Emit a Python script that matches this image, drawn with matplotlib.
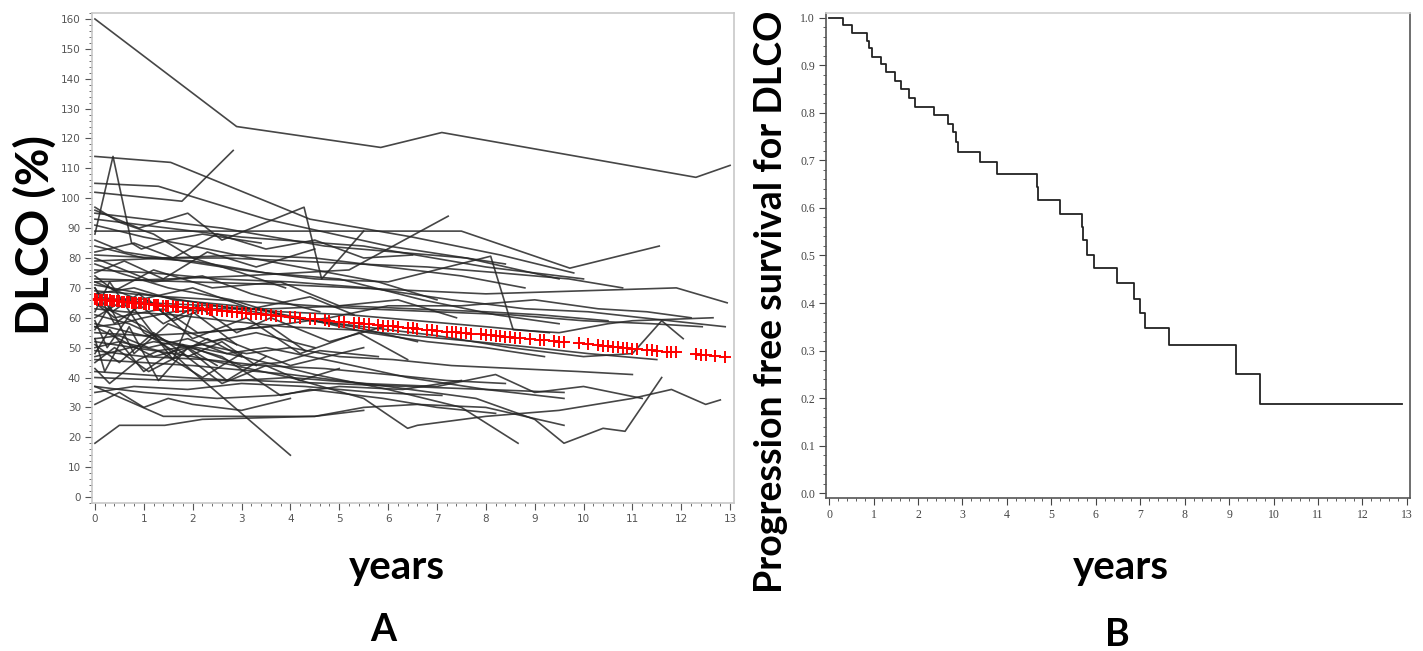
"""
DLCO 추적 관찰 그림 재현.
A: 환자별 DLCO(%) 궤적 + 평균 예측치(빨간 +)
B: DLCO 무진행 생존 곡선 (Kaplan-Meier)
출력: out.png
"""

import matplotlib
matplotlib.use("Agg")
import matplotlib.pyplot as plt
from matplotlib.ticker import MultipleLocator

# ---------------- A 패널: 환자별 궤적 (years, DLCO %) ----------------
subject_times = [
    [0, 2.9, 5.85, 7.1, 12.3, 13.0],
    [0, 1.55, 4.4, 6.5, 8.3, 9.8],
    [0, 0.37, 0.75, 0.95, 1.5, 2.2, 3.4],
    [0, 1.78, 2.83],
    [0, 1.3, 3.5, 6.0, 8.4],
    [0, 0.9, 1.9, 2.6, 4.28, 4.64, 5.5],
    [0, 2.6, 4.7, 7.6, 9.5],
    [0, 1.0, 3.0, 5.5, 8.0, 10.0],
    [0, 3.0, 7.5, 9.72, 11.55],
    [0, 3.0, 5.2, 7.23],
    [0, 4.0, 8.0, 11.9, 12.94],
    [0, 0.6, 1.2, 2.2, 3.2, 4.6],
    [0, 0.5, 1.5, 2.8, 4.0, 5.3, 6.6],
    [0, 1.0, 2.0, 3.5, 5.0, 6.7, 8.2, 9.5],
    [0, 1.2, 2.5, 4.0, 5.6, 7.3, 8.8, 10.1, 11.2, 12.9],
    [0, 0.3, 1.0, 1.7, 2.3, 3.0],
    [0, 0.4, 1.4, 2.1, 3.6, 4.3],
    [0, 0.25, 0.8, 1.6, 2.0, 2.9],
    [0, 0.5, 1.0, 1.6, 2.5, 3.6, 5.1, 6.5, 8.0, 9.1, 10.5],
    [0, 1.0, 2.2, 3.5, 4.8, 6.0, 7.5, 9.0, 10.3, 11.3, 12.2],
    [0, 0.7, 1.5, 2.6, 3.8, 4.4, 5.9, 7.0, 8.2],
    [0, 1.2, 2.0, 3.0, 3.8, 4.6, 5.8],
    [0, 0.5, 1.1, 1.9, 2.7, 3.5, 5.0, 6.4, 8.0, 9.6],
    [0, 0.3, 0.9, 1.3, 2.2, 3.0],
    [0, 0.9, 1.8, 2.9, 4.0, 5.5, 7.0, 8.2, 9.0, 10.0, 11.2],
    [0, 1.0, 2.5, 3.7, 5.0, 6.3, 7.5],
    [0, 0.5, 1.0, 1.5, 2.0, 3.0, 4.0],
    [0, 0.5, 1.43, 2.2, 4.5, 5.5],
    [0, 1.4, 4.5, 5.5, 6.6, 8.0, 9.6],
    [0, 1.0, 2.0, 3.0, 4.0],
    [0, 2.0, 4.0, 5.5, 6.4, 6.6, 8.0, 9.5, 11.0, 11.8, 12.5, 12.8],
    [0, 1.5, 3.0, 4.5, 6.0, 7.5, 8.66],
    [0, 2.0, 4.0, 6.0, 7.8, 9.0, 9.6, 10.4, 10.85, 11.6],
    [0, 1.0, 2.5, 4.0, 5.5, 7.0, 8.5, 10.0, 11.0, 11.6, 12.04],
    [0, 0.6, 1.8, 3.0, 4.5, 6.0, 8.1, 8.56, 9.5, 10.5, 11.0, 12.65],
    [0, 1.5, 3.5, 5.5, 7.0, 8.5, 10.0, 11.4, 12.43],
    [0, 0.4, 1.2, 2.4, 3.8, 5.0, 6.2, 7.4],
    [0, 0.8, 1.6, 2.9, 4.2, 5.6, 6.8, 8.0, 9.2],
    [0, 0.3, 0.8, 1.5, 2.4, 3.3, 4.5],
    [0, 0.6, 1.6, 2.7, 3.9, 5.2, 6.5, 7.8, 9.0, 10.1, 11.5],
    [0, 0.5, 1.2, 1.9, 2.6, 3.3],
    [0, 1.0, 2.3, 3.4, 4.7, 6.0, 7.2, 8.4],
    [0, 0.7, 1.4, 2.1, 2.9, 3.6, 4.8, 5.9],
    [0, 0.2, 0.7, 1.3, 1.9, 2.5],
    [0, 1.3, 2.7, 4.1, 5.4, 6.8, 8.3, 9.7, 10.8],
    [0, 0.9, 2.0, 3.2, 4.4, 5.3],
    [0, 0.4, 1.1, 1.8, 2.6, 3.5, 4.2, 5.0],
    [0, 1.1, 2.4, 3.8, 5.2, 6.6, 8.0, 9.3],
    [0, 0.5, 1.3, 2.2, 3.1, 4.0, 5.0, 6.1, 7.3, 8.6, 9.9, 11.0],
    [0, 0.8, 1.9, 3.0, 4.3, 5.7, 7.1],
    [0, 0.35, 0.9, 1.6, 2.4],
    [0, 1.6, 3.2, 4.8, 6.4, 8.0, 9.6],
    [0, 0.5, 1.2, 2.0, 3.0, 3.9],
    [0, 1.0, 2.0, 3.2, 4.5, 5.8, 7.0],
    [0, 0.8, 1.6, 2.5, 3.5, 4.5, 5.5, 6.5],
    [0, 1.5, 3.0, 4.5, 6.0, 7.5, 8.8],
    [0, 0.6, 1.4, 2.3, 3.3, 4.5],
    [0, 0.4, 1.1, 2.0, 3.1, 4.2, 5.4, 6.4],
    [0, 1.2, 2.6, 4.0, 5.5],
    [0, 0.3, 1.0, 1.8, 2.7, 3.5],
]
subject_values = [
    [160, 124, 117, 122, 107, 111],
    [114, 112, 93, 87, 81, 75],
    [88, 114, 85, 83, 86, 88, 85],
    [102, 99, 116],
    [105, 104, 93, 84, 78],
    [96, 90, 95, 86, 97, 73, 89],
    [95, 90, 84, 80, 73],
    [93, 91, 87, 84, 77, 73],
    [89, 89, 89, 76.6, 84],
    [72, 74, 76, 94],
    [73, 71, 68, 70, 65],
    [80, 76, 72, 74, 68, 62],
    [78, 75, 70, 66, 60, 57, 52],
    [84, 80, 79, 75, 73, 66, 61, 58],
    [76, 75, 73, 72, 70, 66, 63, 62, 60, 57],
    [62, 72, 55, 48, 53, 47],
    [65, 60, 63, 55, 57, 49],
    [59, 50, 63, 46, 62, 51],
    [57, 58, 60, 62, 63, 63, 64, 63, 62, 61, 59],
    [55, 54, 55, 57, 60, 64, 64, 66, 63, 62, 60],
    [61, 58, 52, 47, 34, 36, 33, 30, 28],
    [47, 52, 50, 44, 45, 49, 47],
    [53, 54, 50, 53, 48, 50, 45, 40, 36, 33],
    [43, 38, 46, 49, 40, 48],
    [42, 41, 40, 39, 40, 38, 37, 41, 35, 37, 33],
    [37, 35, 33, 34, 37, 36, 39],
    [31, 35, 30, 33, 31, 29, 33],
    [18, 24, 24, 26, 27, 29],
    [37, 27, 27, 30, 31, 30, 24],
    [65, 57, 42, 28, 14],
    [52, 47, 40, 33, 23, 24, 27, 29, 33, 36, 31, 32.5],
    [58, 52, 47, 41, 36, 30, 18],
    [46, 44, 41, 37, 33, 26, 18, 23, 22, 40],
    [71, 68, 64, 60, 57, 54, 50, 47, 48, 59, 53],
    [86, 82, 79, 76, 73, 72, 80.6, 56, 55, 58, 59, 60],
    [69, 67, 65, 63, 62, 61, 59, 58, 57],
    [74, 69, 76, 70, 72, 64, 66, 60],
    [68, 70, 66, 64, 60, 55, 52, 50, 47],
    [56, 64, 48, 58, 52, 55, 50],
    [63, 62, 61, 59, 57, 56, 54, 52, 50, 48, 46],
    [51, 45, 55, 47, 52, 44],
    [49, 47, 46, 44, 43, 41, 39, 38],
    [60, 67, 58, 64, 55, 60, 52, 57],
    [53, 42, 57, 39, 50, 44],
    [81, 80, 80, 79, 78, 77, 75, 73, 70],
    [72, 66, 70, 63, 67, 61],
    [45, 50, 42, 48, 38, 44, 39, 43],
    [67, 65, 64, 62, 61, 59, 57, 55],
    [50, 52, 49, 51, 48, 50, 47, 46, 44, 43, 42, 41],
    [35, 37, 36, 38, 37, 35, 34],
    [70, 62, 68, 59, 64],
    [40, 39, 39, 38, 37, 36, 35],
    [97, 92, 88, 80, 75, 70],
    [91, 87, 84, 80, 76, 72, 66],
    [82, 85, 80, 88, 83, 86, 80, 81],
    [79, 80, 81, 80, 77, 74, 70],
    [75, 79, 73, 82, 77, 83],
    [70, 58, 66, 53, 60, 48, 55, 46],
    [57, 47, 53, 44, 50],
    [48, 56, 42, 51, 39, 47],
]

# 평균 예측치 (빨간 + 표시)
fit_times = [
    0, 0.05, 0.1, 0.15, 0.2, 0.25, 0.3, 0.35, 0.4, 0.45, 0.5, 0.55, 0.6, 0.65, 0.7,
    0.75, 0.8, 0.85, 0.9, 0.95, 1.0, 1.05, 1.1, 1.2, 1.25, 1.3, 1.4, 1.45, 1.5, 1.6,
    1.65, 1.7, 1.8, 1.9, 2.0, 2.1, 2.2, 2.3, 2.35, 2.4, 2.5, 2.6, 2.7, 2.8, 2.9, 3.0,
    3.1, 3.2, 3.3, 3.4, 3.5, 3.6, 3.7, 3.8, 4.0, 4.1, 4.2, 4.4, 4.5, 4.7, 4.8, 5.0,
    5.1, 5.3, 5.4, 5.5, 5.6, 5.8, 5.9, 6.0, 6.1, 6.2, 6.4, 6.5, 6.6, 6.8, 6.9, 7.0,
    7.2, 7.3, 7.4, 7.5, 7.6, 7.7, 7.9, 8.0, 8.1, 8.2, 8.3, 8.4, 8.5, 8.6, 8.7, 8.9,
    9.1, 9.2, 9.4, 9.5, 9.6, 9.9, 10.1, 10.3, 10.4, 10.5, 10.6, 10.7, 10.8, 10.9,
    11.0, 11.1, 11.3, 11.4, 11.5, 11.7, 11.8, 11.9, 12.3, 12.4, 12.5, 12.7, 12.9,
]
fit_values = [
    66.2, 66.1, 66.1, 66.0, 65.9, 65.8, 65.8, 65.7, 65.6, 65.5, 65.5, 65.4, 65.3, 65.2, 65.2,
    65.1, 65.0, 64.9, 64.9, 64.8, 64.7, 64.6, 64.6, 64.4, 64.3, 64.3, 64.1, 64.0, 64.0, 63.8,
    63.7, 63.7, 63.5, 63.4, 63.2, 63.1, 62.9, 62.8, 62.7, 62.6, 62.5, 62.3, 62.2, 62.0, 61.9, 61.7,
    61.6, 61.4, 61.3, 61.1, 61.0, 60.8, 60.7, 60.5, 60.2, 60.1, 59.9, 59.6, 59.5, 59.2, 59.0, 58.7,
    58.6, 58.3, 58.1, 58.0, 57.8, 57.5, 57.4, 57.2, 57.1, 56.9, 56.6, 56.5, 56.3, 56.0, 55.9, 55.7,
    55.4, 55.3, 55.1, 55.0, 54.8, 54.7, 54.4, 54.2, 54.1, 53.9, 53.8, 53.6, 53.5, 53.3, 53.2, 52.9,
    52.6, 52.4, 52.1, 52.0, 51.8, 51.4, 51.1, 50.8, 50.6, 50.5, 50.3, 50.2, 50.0, 49.9,
    49.7, 49.6, 49.3, 49.1, 49.0, 48.7, 48.5, 48.4, 47.8, 47.6, 47.5, 47.2, 46.9,
]

# ---------------- B 패널: Kaplan-Meier ----------------
km_times = [0, 0.32, 0.52, 0.85, 0.90, 0.97, 1.17, 1.28, 1.48, 1.62, 1.80, 1.93, 2.36,
            2.68, 2.79, 2.86, 2.90, 3.40, 3.78, 4.67, 4.70, 5.20, 5.69, 5.72, 5.80, 5.96,
            6.47, 6.86, 7.00, 7.10, 7.65, 9.15, 9.69, 12.9]
km_surv = [1.0, 0.985, 0.968, 0.952, 0.936, 0.918, 0.903, 0.886, 0.867, 0.850, 0.832,
           0.813, 0.796, 0.777, 0.760, 0.739, 0.718, 0.697, 0.672, 0.644, 0.617, 0.587,
           0.560, 0.533, 0.500, 0.473, 0.442, 0.408, 0.378, 0.347, 0.312, 0.250, 0.187, 0.187]

BIG_FONT = "Lato"
W, H = 1423, 651


def style_ticks(ax, color, family, size):
    ax.tick_params(which="both", direction="out", colors=color, labelsize=size, pad=3)
    ax.tick_params(which="major", length=5)
    ax.tick_params(which="minor", length=2.5)
    for lab in ax.get_xticklabels() + ax.get_yticklabels():
        lab.set_family(family)


def main():
    fig = plt.figure(figsize=(W / 100, H / 100), dpi=100)

    # ---- A ----
    ax1 = fig.add_axes([92 / W, 1 - 503 / H, (734 - 92) / W, (503 - 13) / H])
    for t, v in zip(subject_times, subject_values):
        ax1.plot(t, v, color="#262626", lw=1.2, alpha=0.85)
    ax1.plot(fit_times, fit_values, ls="none", marker="+", ms=8, mew=1.4, color="red")
    ax1.set_xlim(-0.06, 13.08)
    ax1.set_ylim(-2, 162)
    ax1.xaxis.set_major_locator(MultipleLocator(1))
    ax1.xaxis.set_minor_locator(MultipleLocator(0.2))
    ax1.yaxis.set_major_locator(MultipleLocator(10))
    ax1.yaxis.set_minor_locator(MultipleLocator(2))
    for s in ax1.spines.values():
        s.set_color("#c8c8c8")
        s.set_linewidth(1.2)
    style_ticks(ax1, "#555555", "DejaVu Sans", 7.5)

    # ---- B ----
    ax2 = fig.add_axes([826 / W, 1 - 498 / H, (1410 - 826) / W, (498 - 13) / H])
    ax2.step(km_times, km_surv, where="post", color="#222222", lw=1.3)
    ax2.set_xlim(-0.07, 13.07)
    ax2.set_ylim(-0.0105, 1.0105)
    ax2.xaxis.set_major_locator(MultipleLocator(1))
    ax2.xaxis.set_minor_locator(MultipleLocator(0.2))
    ax2.yaxis.set_major_locator(MultipleLocator(0.1))
    ax2.yaxis.set_minor_locator(MultipleLocator(0.02))
    ax2.yaxis.set_major_formatter(plt.FuncFormatter(lambda v, _: f"{v:.1f}"))
    for name, s in ax2.spines.items():
        s.set_color("#d0d0d0" if name == "top" else "#555555")
        s.set_linewidth(1.2)
    style_ticks(ax2, "#444444", "Liberation Serif", 8.5)

    # ---- 큰 라벨 ----
    big = dict(family=BIG_FONT, weight="bold", color="black", ha="center", va="center")
    fig.text(35 / W, 1 - 235 / H, "DLCO (%)", rotation=90, fontsize=33, **big)
    fig.text(397 / W, 1 - 568 / H, "years", fontsize=29, **big)
    fig.text(383 / W, 1 - 630 / H, "A", fontsize=27, **big)
    fig.text(771 / W, 1 - 302 / H, "Progression free survival for DLCO",
             rotation=90, fontsize=27, **big)
    fig.text(1121 / W, 1 - 568 / H, "years", fontsize=29, **big)
    fig.text(1117 / W, 1 - 635 / H, "B", fontsize=27, **big)

    fig.savefig("out.png", dpi=100)
    plt.close(fig)


if __name__ == "__main__":
    main()
